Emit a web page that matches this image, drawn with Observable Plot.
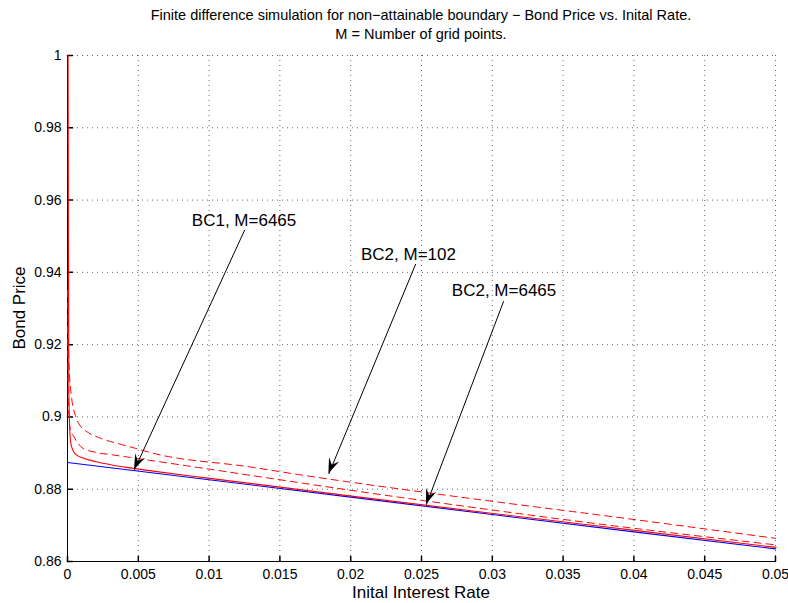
<!DOCTYPE html>
<html>
<head>
<meta charset="utf-8">
<script src="https://cdn.jsdelivr.net/npm/d3@7"></script>
<script src="https://cdn.jsdelivr.net/npm/@observablehq/plot@0.6"></script>
<style>
  html, body { margin: 0; padding: 0; background: #fff; }
  #chart svg { display: block; font-family: "Liberation Sans", Arial, Helvetica, sans-serif; }
</style>
</head>
<body>
<div id="chart"></div>
<script>
// ---- Data ----
const titleLines = [
  "Finite difference simulation for non\u2212attainable boundary \u2212 Bond Price vs. Inital Rate.",
  "M = Number of grid points."
];
const xLabel = "Inital Interest Rate";
const yLabel = "Bond Price";

const xTicks = [0, 0.005, 0.01, 0.015, 0.02, 0.025, 0.03, 0.035, 0.04, 0.045, 0.05];
const xTickLabels = ["0", "0.005", "0.01", "0.015", "0.02", "0.025", "0.03", "0.035", "0.04", "0.045", "0.05"];
const yTicks = [0.86, 0.88, 0.9, 0.92, 0.94, 0.96, 0.98, 1];
const yTickLabels = ["0.86", "0.88", "0.9", "0.92", "0.94", "0.96", "0.98", "1"];

// Blue solid reference curve
const blueX = [0, 0.01, 0.02, 0.03, 0.04, 0.05];
const blueY = [0.8874, 0.8826, 0.8778, 0.8730, 0.8682, 0.8635];

// Red solid: BC1, M=6465
const bc1X = [0, 0.00002, 0.00005, 0.0001, 0.0002, 0.0005, 0.001, 0.002, 0.004, 0.006, 0.01, 0.02, 0.03, 0.04, 0.05];
const bc1Y = [1.0, 0.95, 0.91, 0.898, 0.8925, 0.8898, 0.8887, 0.8876, 0.8861, 0.8850, 0.8830, 0.8781, 0.8733, 0.8686, 0.8639];

// Red dashed: BC2, M=102
const bc2aX = [0, 0.0001, 0.0003, 0.00056, 0.0009, 0.00127, 0.0024, 0.0036, 0.0049, 0.0058, 0.013, 0.0164, 0.0234, 0.0305, 0.0375, 0.05];
const bc2aY = [0.935, 0.915, 0.905, 0.9004, 0.8975, 0.8962, 0.8940, 0.8926, 0.8912, 0.8902, 0.8861, 0.8840, 0.8801, 0.8764, 0.8729, 0.8664];

// Red dashed: BC2, M=6465
const bc2bX = [0, 0.00005, 0.0002, 0.0004, 0.0011, 0.002, 0.0032, 0.0044, 0.0058, 0.0234, 0.0375, 0.05];
const bc2bY = [0.925, 0.905, 0.8965, 0.8949, 0.8913, 0.8902, 0.8895, 0.8888, 0.8880, 0.8778, 0.8704, 0.8646];

// Annotations (text anchor and arrow tip, in data units)
const annText = ["BC1, M=6465", "BC2, M=102", "BC2, M=6465"];
const annTextX = [0.01247, 0.02408, 0.03083];
const annTextY = [0.9543, 0.9449, 0.9350];
const annTailX = [0.0125, 0.02458, 0.03079];
const annTailY = [0.9516, 0.9422, 0.9319];
const annTipX = [0.00473, 0.01846, 0.02535];
const annTipY = [0.8854, 0.8843, 0.8758];

// ---- Build tables ----
const toPts = (xs, ys) => xs.map((x, i) => ({x, y: ys[i]}));
const blue = toPts(blueX, blueY);
const bc1 = toPts(bc1X, bc1Y);
const bc2a = toPts(bc2aX, bc2aY);
const bc2b = toPts(bc2bX, bc2bY);
const ann = annText.map((t, i) => ({
  t, tx: annTextX[i], ty: annTextY[i],
  x1: annTailX[i], y1: annTailY[i], x2: annTipX[i], y2: annTipY[i]
}));

const xFmt = d => xTickLabels[xTicks.indexOf(d)];
const yFmt = d => yTickLabels[yTicks.indexOf(d)];

// custom inward tick shape for vector marks
const tickShape = { draw(ctx, l) { ctx.moveTo(0, 0); ctx.lineTo(0, -l); } };

const chart = Plot.plot({
  width: 788,
  height: 603,
  marginLeft: 67,
  marginRight: 13,
  marginTop: 55,
  marginBottom: 42,
  style: { fontFamily: "'Liberation Sans', Arial, Helvetica, sans-serif", background: "#fff" },
  x: { domain: [0, 0.05] },
  y: { domain: [0.86, 1] },
  marks: [
    Plot.gridX(xTicks, { stroke: "#666", strokeOpacity: 1, strokeDasharray: "1,4" }),
    Plot.gridY(yTicks, { stroke: "#666", strokeOpacity: 1, strokeDasharray: "1,4" }),
    // axes lines
    Plot.ruleX([0], { stroke: "#000" }),
    Plot.ruleY([0.86], { stroke: "#000" }),
    // inward ticks
    Plot.vector(xTicks, { x: d => d, frameAnchor: "bottom", length: 5, rotate: 0, anchor: "start", shape: tickShape, stroke: "#000" }),
    Plot.vector(yTicks, { y: d => d, frameAnchor: "left", length: 5, rotate: 90, anchor: "start", shape: tickShape, stroke: "#000" }),
    // curves
    Plot.line(bc2a, { x: "x", y: "y", stroke: "#ff0000", strokeWidth: 1, strokeDasharray: "7,5", curve: "monotone-x" }),
    Plot.line(bc2b, { x: "x", y: "y", stroke: "#ff0000", strokeWidth: 1, strokeDasharray: "7,5", curve: "monotone-x" }),
    Plot.line(blue, { x: "x", y: "y", stroke: "#0000ff", strokeWidth: 1.1 }),
    Plot.line(bc1, { x: "x", y: "y", stroke: "#ff0000", strokeWidth: 1.1, curve: "monotone-x", dx: 0.6 }),
    // tick labels
    Plot.axisX(xTicks, { tickSize: 0, tickPadding: 8, tickFormat: xFmt, fontSize: 14, fill: "#000", label: null }),
    Plot.axisY(yTicks, { tickSize: 0, tickPadding: 6, tickFormat: yFmt, fontSize: 14, fill: "#000", label: null }),
    // annotation arrows
    Plot.arrow(ann, { x1: "x1", y1: "y1", x2: "x2", y2: "y2", stroke: "#000", strokeWidth: 1, headLength: 0, bend: false }),
    Plot.text(ann, { x: "tx", y: "ty", text: "t", fontSize: 17, fill: "#000" })
  ]
});

const svg = d3.select(chart);

// filled arrow heads
const xs = chart.scale("x"), ys = chart.scale("y");
ann.forEach(a => {
  const px1 = xs.apply(a.x1), py1 = ys.apply(a.y1), px2 = xs.apply(a.x2), py2 = ys.apply(a.y2);
  const ang = Math.atan2(py2 - py1, px2 - px1);
  const L = 13, W = 5.5, back = 9;
  const bx = px2 - L * Math.cos(ang), by = py2 - L * Math.sin(ang);
  const nx = -Math.sin(ang), ny = Math.cos(ang);
  const mx = px2 - back * Math.cos(ang), my = py2 - back * Math.sin(ang);
  const pts = [[px2, py2], [bx + W * nx - 2 * Math.cos(ang), by + W * ny - 2 * Math.sin(ang)], [mx, my], [bx - W * nx - 2 * Math.cos(ang), by - W * ny - 2 * Math.sin(ang)]];
  svg.append("path").attr("d", "M" + pts.map(p => p.join(",")).join("L") + "Z").attr("fill", "#000");
});

// titles and axis labels
const cx = (67 + 775) / 2;
const tg = svg.append("g").attr("font-family", "'Liberation Sans', Arial, Helvetica, sans-serif").attr("fill", "#000").attr("text-anchor", "middle");
tg.append("text").attr("x", cx).attr("y", 20).attr("font-size", 14.5).text(titleLines[0]);
tg.append("text").attr("x", cx).attr("y", 39).attr("font-size", 14.5).text(titleLines[1]);
tg.append("text").attr("x", cx).attr("y", 598).attr("font-size", 17).text(xLabel);
tg.append("text").attr("transform", "translate(25,308) rotate(-90)").attr("font-size", 17).text(yLabel);

document.getElementById("chart").appendChild(chart);
</script>
</body>
</html>
